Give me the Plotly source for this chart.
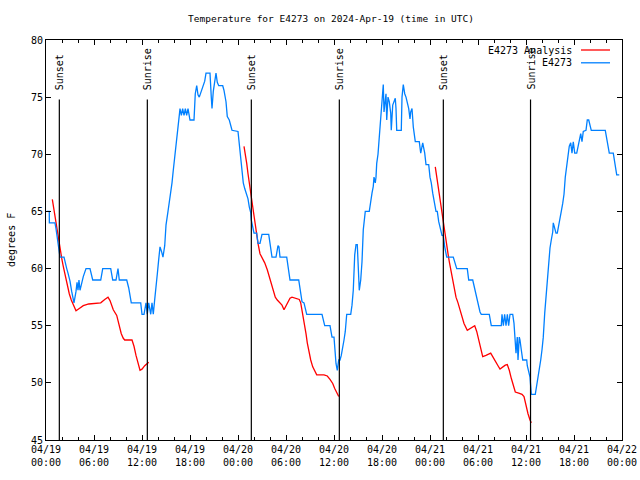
import pandas as pd
import plotly.graph_objects as go

BASE = pd.Timestamp("2024-04-19 00:00")

# ---- Data: hours since 2024-04-19 00:00 UTC, temperature (degrees F) ----
obs_hours = [0.09, 0.41, 0.42, 1.12, 1.25, 1.34, 1.54, 1.66, 1.75, 2.25, 2.38, 2.59, 2.75, 3.0, 3.21,
             3.41, 3.5, 3.75, 3.88, 4.0, 4.12, 4.25, 4.5, 4.66, 5.0, 5.5, 5.84, 6.84, 7.09, 8.09,
             8.34, 8.75, 9.0, 9.16, 10.09, 10.34, 10.66, 11.84, 12.0, 12.25, 12.5, 12.66, 12.84, 13.09,
             13.25, 13.41, 13.59, 13.75, 13.91, 14.09, 14.25, 14.44, 14.62, 14.84, 15.0, 15.25, 15.5,
             15.75, 15.91, 16.09, 16.25, 16.41, 16.66, 16.75, 16.92, 17.08, 17.25, 17.42, 17.58,
             17.75, 18.0, 18.5, 18.66, 18.84, 19.0, 19.16, 19.41, 19.59, 19.84, 20.0, 20.5,
             20.66, 20.75, 20.91, 21.09, 21.25, 21.41, 21.59, 22.09, 22.25, 22.5, 22.66, 22.91, 23.16,
             23.25, 24.0, 24.16, 24.34, 24.5, 24.66, 24.84, 25.0, 25.25, 25.41, 25.59, 25.66, 26.0,
             26.34, 26.5, 26.75, 27.0, 27.84, 28.0, 28.25, 28.75, 29.0, 29.12, 29.25, 30.09, 30.25,
             30.5, 31.59, 31.75, 32.0, 32.25, 32.41, 32.59, 34.5, 34.66, 34.84, 35.5, 35.66, 35.75,
             36.0, 36.25, 36.41, 36.59, 36.75, 36.91, 37.25, 37.41, 37.59, 38.09, 38.25, 38.41, 38.59,
             38.75, 38.91, 39.16, 39.34, 39.5, 39.66, 39.84, 39.91, 40.41, 40.59, 40.75, 40.91, 41.0,
             41.16, 41.25, 41.34, 41.5, 41.66, 41.84, 42.0, 42.16, 42.25, 42.41, 42.5, 42.59, 42.75,
             42.91, 43.09, 43.16, 43.34, 43.66, 43.75, 43.84, 44.41, 44.5, 44.66, 44.84, 45.0, 45.34,
             45.5, 45.59, 45.75, 45.91, 46.16, 46.66, 46.84, 47.09, 47.34, 47.5, 47.84, 48.0, 48.16,
             48.34, 48.59, 48.75, 48.91, 49.09, 49.5, 49.66, 49.84, 50.09, 50.91, 51.09, 51.34, 52.66,
             52.84, 53.34, 53.66, 53.84, 54.0, 54.25, 54.41, 55.41, 55.66, 56.91, 57.0, 57.17,
             57.33, 57.5, 57.67, 57.83, 58.0, 58.34, 58.5, 58.75, 58.91, 59.0, 59.16, 59.25,
             59.41, 59.59, 60.09, 60.16, 60.5, 60.59, 60.66, 61.16, 61.34, 61.5, 61.66, 61.84, 62.0,
             62.16, 62.34, 62.5, 62.66, 62.84, 63.0, 63.16, 63.34, 63.41, 63.59, 63.75, 63.91, 64.09,
             64.25, 64.41, 64.59, 64.75, 64.91, 65.09, 65.25, 65.41, 65.59, 65.75, 65.91, 66.09, 66.34,
             66.5, 66.66, 66.84, 67.0, 67.16, 67.5, 67.66, 67.84, 68.16, 69.91, 70.09, 70.41, 70.91,
             71.09, 71.34, 71.66]
obs_temps = [65.0, 65.0, 64.0, 64.0, 63.5, 63.1, 61.8, 61.5, 61.0, 61.0, 60.5, 60.0, 59.6, 58.9, 58.0,
             57.3, 57.0, 58.0, 58.8, 58.1, 59.0, 58.1, 59.0, 59.3, 60.0, 60.0, 59.0, 59.0, 60.0, 60.0,
             59.0, 59.0, 60.0, 59.0, 59.0, 58.3, 57.0, 57.0, 56.0, 56.0, 57.0, 56.0, 57.0, 56.0,
             57.0, 56.0, 57.3, 58.2, 59.5, 60.8, 61.9, 61.5, 61.0, 62.0, 63.8, 65.0, 66.1,
             67.5, 68.6, 69.9, 71.1, 72.1, 73.4, 74.0, 73.4, 74.0, 73.4, 74.0, 73.4,
             74.0, 73.0, 73.0, 75.3, 76.0, 75.2, 75.0, 75.6, 76.0, 76.4, 77.1, 77.1,
             75.0, 74.0, 75.5, 76.5, 77.1, 76.3, 76.0, 76.0, 75.6, 74.6, 73.3, 73.0, 72.4,
             72.1, 72.0, 70.8, 69.5, 68.3, 67.5, 67.0, 66.6, 66.1, 65.4, 64.9, 64.25, 63.1,
             63.1, 62.2, 62.2, 63.0, 63.0, 62.2, 61.0, 61.0, 62.0, 61.9, 61.0, 61.0, 60.2,
             59.0, 59.0, 58.1, 57.1, 57.0, 56.4, 56.0, 56.0, 55.5, 55.0, 55.0, 54.5, 54.0,
             54.0, 51.7, 51.1, 52.0, 52.0, 52.4, 53.75, 54.5, 56.0, 56.0, 56.8, 58.1, 61.2,
             62.1, 62.1, 58.1, 59.0, 60.6, 63.4, 64.5, 65.0, 65.0, 66.0, 66.6, 67.2, 68.0,
             67.5, 68.0, 69.2, 70.0, 71.5, 73.0, 75.0, 76.1, 73.7, 74.6, 75.3, 73.0, 75.0,
             74.6, 73.6, 72.1, 74.3, 74.9, 74.0, 72.1, 72.1, 75.0, 76.1, 75.3, 75.0, 74.0,
             73.1, 73.7, 74.0, 72.4, 71.1, 71.1, 70.1, 71.0, 70.1, 69.1, 69.1, 68.0, 67.5,
             66.6, 65.4, 65.0, 65.0, 64.1, 62.9, 62.9, 61.9, 61.0, 61.0, 60.6, 60.0, 60.0,
             59.0, 59.0, 58.0, 57.25, 57.0, 56.2, 56.0, 56.0, 55.0, 55.0, 56.0, 55.0,
             56.0, 55.0, 56.0, 55.0, 56.0, 56.0, 55.2, 52.6, 54.0, 52.0, 54.0, 53.75,
             52.9, 52.0, 52.0, 51.5, 50.5, 49.5, 49.0, 49.0, 49.7, 50.5, 51.3, 52.0, 52.9,
             54.0, 56.1, 57.5, 59.3, 60.5, 61.8, 62.5, 63.2, 64.0, 63.5, 63.1, 63.1, 63.7,
             64.25, 65.0, 65.7, 66.5, 68.0, 68.9, 69.9, 70.7, 71.0, 70.1, 71.1, 70.1, 70.1,
             70.7, 71.1, 71.8, 71.1, 72.0, 72.1, 73.0, 73.0, 72.1, 72.1, 71.25, 70.1, 70.1,
             69.2, 68.2, 68.2]

ana1_hours = [0.79, 1.25, 1.41, 1.66, 1.84, 2.0, 2.16, 2.34, 2.5, 2.66, 2.91, 3.16, 3.41, 3.75, 4.16,
              4.66, 5.34, 6.34, 6.84, 7.34, 7.75, 8.0, 8.41, 8.84, 9.09, 9.41, 9.66, 9.84, 10.75,
              11.0, 11.25, 11.5, 11.75, 12.0, 12.34, 12.84]
ana1_temps = [66.06, 64.0, 63.1, 61.9, 61.3, 60.75, 60.2, 59.6, 59.0, 58.4, 57.8, 57.25, 56.8, 56.3,
              56.5, 56.75, 56.9, 56.95, 57.0, 57.3, 57.5, 57.2, 56.4, 55.9, 55.2, 54.3, 53.9, 53.75,
              53.75, 53.2, 52.4, 51.7, 51.1, 51.2, 51.5, 51.8]
ana2_hours = [24.75, 24.91, 25.09, 25.25, 25.41, 25.59, 25.75, 25.91, 26.09, 26.25, 26.5, 26.75, 27.09,
              27.34, 27.66, 27.91, 28.16, 28.41, 28.66, 28.91, 29.25, 29.5, 29.75, 30.0, 30.25, 30.5,
              30.75, 31.16, 31.66, 31.84, 32.09, 32.25, 32.5, 32.66, 32.84, 33.09, 33.34, 33.59,
              33.84, 34.75, 35.16, 35.5, 35.84, 36.09, 36.34, 36.59]
ana2_temps = [70.7, 70.1, 69.2, 68.3, 67.5, 66.6, 65.7, 64.8, 64.0, 63.1, 62.2, 61.3, 60.9, 60.5, 59.9,
              59.3, 58.7, 58.1, 57.5, 57.25, 57.0, 56.8, 56.4, 56.7, 57.1, 57.4, 57.5, 57.4, 57.3,
              57.0, 56.1, 55.2, 54.3, 53.5, 52.7, 52.0, 51.4, 51.0, 50.7, 50.7, 50.6, 50.3, 49.95,
              49.5, 49.1, 48.8]
ana3_hours = [48.66, 48.84, 49.0, 49.16, 49.34, 49.5, 49.66, 49.84, 50.0, 50.25, 50.41, 50.59, 50.84,
              51.0, 51.25, 51.5, 51.75, 52.0, 52.25, 52.66, 53.16, 53.59, 53.84, 54.09, 54.34, 54.59,
              55.0, 55.59, 55.84, 56.16, 56.5, 56.75, 57.09, 57.41, 57.66, 57.91, 58.16, 58.41,
              58.66, 59.09, 59.5, 59.75, 60.0, 60.25, 60.5, 60.66]
ana3_temps = [68.9, 68.0, 67.2, 66.3, 65.4, 64.6, 63.8, 63.1, 62.2, 61.3, 60.6, 59.9, 59.1, 58.4, 57.5,
              57.0, 56.4, 55.8, 55.2, 54.6, 54.8, 55.0, 54.5, 53.75, 53.0, 52.3, 52.4, 52.6, 52.3,
              51.85, 51.5, 51.2, 51.4, 51.55, 51.6, 51.1, 50.4, 49.8, 49.2, 49.1, 49.0, 48.8, 47.9,
              47.3, 46.75, 46.5]

sun_times = ["2024-04-19 01:40", "2024-04-19 12:40", "2024-04-20 01:40",
             "2024-04-20 12:40", "2024-04-21 01:40", "2024-04-21 12:34"]
sun_labels = ["Sunset", "Sunrise", "Sunset", "Sunrise", "Sunset", "Sunrise"]

tick_times = ["2024-04-19 00:00", "2024-04-19 06:00", "2024-04-19 12:00", "2024-04-19 18:00",
              "2024-04-20 00:00", "2024-04-20 06:00", "2024-04-20 12:00", "2024-04-20 18:00",
              "2024-04-21 00:00", "2024-04-21 06:00", "2024-04-21 12:00", "2024-04-21 18:00",
              "2024-04-22 00:00"]
tick_text = ["04/19<br>00:00", "04/19<br>06:00", "04/19<br>12:00", "04/19<br>18:00",
             "04/20<br>00:00", "04/20<br>06:00", "04/20<br>12:00", "04/20<br>18:00",
             "04/21<br>00:00", "04/21<br>06:00", "04/21<br>12:00", "04/21<br>18:00",
             "04/22<br>00:00"]

series_names = ["E4273 Analysis", "E4273"]
series_colors = ["#ff0000", "#0080ff"]

FONT = "DejaVu Sans Mono"
W, H = 640, 480


def to_time(hours):
    return list(BASE + pd.to_timedelta(hours, unit="h"))


ana_x, ana_y = [], []
for hs, ts in [(ana1_hours, ana1_temps), (ana2_hours, ana2_temps), (ana3_hours, ana3_temps)]:
    if ana_x:
        ana_x.append(None)
        ana_y.append(None)
    ana_x += to_time(hs)
    ana_y += ts

fig = go.Figure()

# sunrise / sunset markers
for t, lab in zip(sun_times, sun_labels):
    fig.add_shape(type="line", xref="x", yref="y", x0=t, x1=t, y0=45, y1=74.8,
                  line=dict(color="black", width=1.2), layer="above")
    fig.add_annotation(x=t, y=75.45, xref="x", yref="y", text=lab, textangle=-90,
                       showarrow=False, xanchor="center", yanchor="bottom",
                       font=dict(family=FONT, size=10, color="black"))

fig.add_trace(go.Scatter(x=ana_x, y=ana_y, mode="lines", name=series_names[0],
                         line=dict(color=series_colors[0], width=1.3), connectgaps=False))
fig.add_trace(go.Scatter(x=to_time(obs_hours), y=obs_temps, mode="lines", name=series_names[1],
                         line=dict(color=series_colors[1], width=1.3)))

# gnuplot-style legend (text right, sample line at far right)
for i, (nm, col) in enumerate(zip(series_names, series_colors)):
    yy = 0.975 - i * 0.032
    fig.add_annotation(x=0.9167, y=yy, xref="paper", yref="paper", text=nm, showarrow=False,
                       xanchor="right", yanchor="middle",
                       font=dict(family=FONT, size=10, color="black"))
    fig.add_shape(type="line", xref="paper", yref="paper", x0=0.9288, x1=0.9792, y0=yy, y1=yy,
                  line=dict(color=col, width=1.3))

fig.add_annotation(x=-0.0608, y=0.5, xref="paper", yref="paper", text="degrees F",
                   textangle=-90, showarrow=False, xanchor="center", yanchor="middle",
                   font=dict(family=FONT, size=10, color="black"))

fig.update_layout(
    width=W, height=H,
    margin=dict(l=46, r=18, t=40, b=40, autoexpand=False),
    paper_bgcolor="white", plot_bgcolor="white",
    showlegend=False,
    font=dict(family=FONT, size=10, color="black"),
    title=dict(text="Temperature for E4273 on 2024-Apr-19 (time in UTC)",
               x=331 / W, xanchor="center", y=1 - 19 / H,
               yanchor="middle", yref="container",
               font=dict(family=FONT, size=9.5, color="black")),
    xaxis=dict(type="date", range=["2024-04-19 00:00", "2024-04-22 00:00"],
               tickmode="array", tickvals=tick_times, ticktext=tick_text,
               ticks="inside", ticklen=5, tickcolor="black", tickwidth=1,
               minor=dict(ticks="inside", ticklen=3, dtick=2 * 3600 * 1000,
                          tick0="2024-04-19", tickcolor="black", showgrid=False),
               showline=True, linecolor="black", linewidth=1, mirror="ticks",
               showgrid=False, zeroline=False, automargin=False,
               tickfont=dict(family=FONT, size=10)),
    yaxis=dict(range=[45, 80], tickmode="linear", tick0=45, dtick=5,
               ticks="inside", ticklen=5, tickcolor="black",
               showline=True, linecolor="black", linewidth=1, mirror="ticks",
               showgrid=False, zeroline=False, automargin=False,
               tickfont=dict(family=FONT, size=10)),
)

fig.write_html("out.html",
               config={"displayModeBar": False},
               post_script="document.body.style.margin='0px';"
                           "document.documentElement.style.overflow='hidden';")
